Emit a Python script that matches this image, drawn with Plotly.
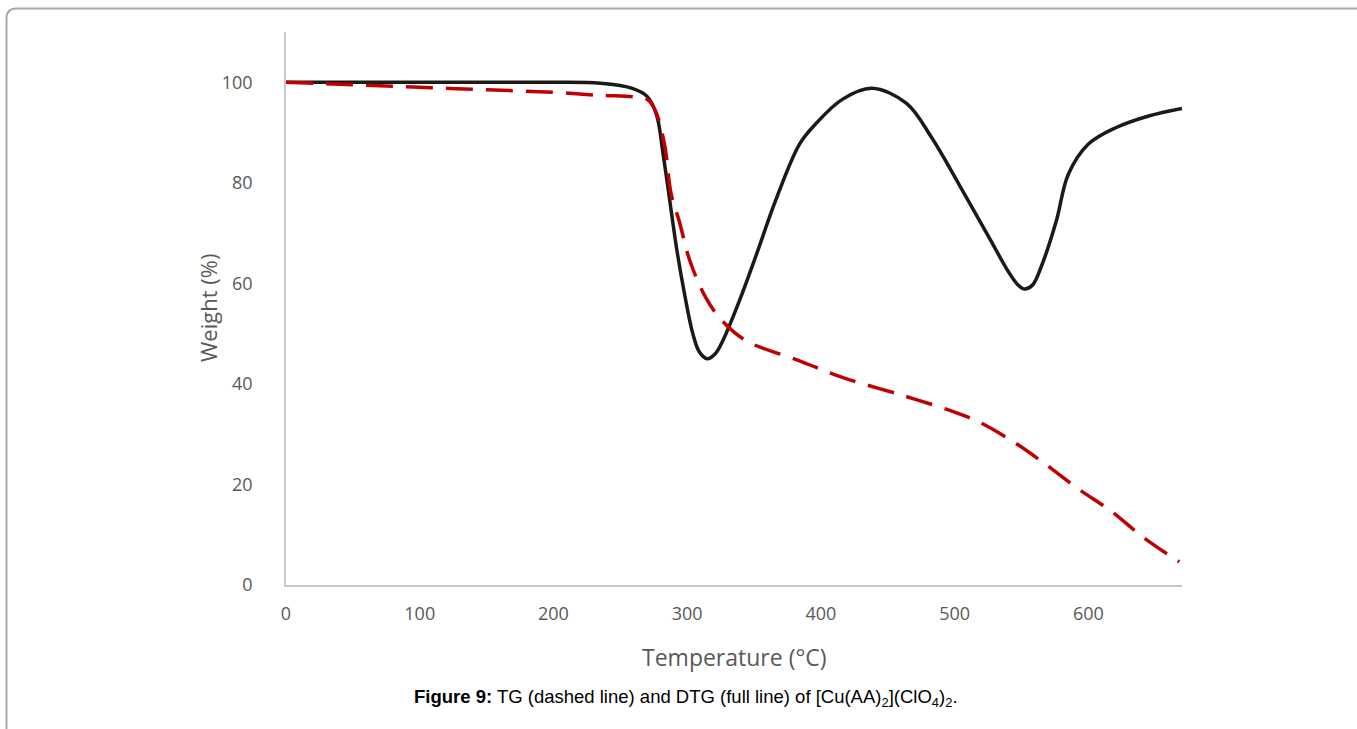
import plotly.graph_objects as go

# TG curve (dashed red)
tg_x = [0, 50, 100, 150, 200, 235, 260, 270, 276, 283, 288, 294, 302, 314, 326, 344, 384, 416, 460, 500, 520, 545, 565, 591, 617, 641, 668]
tg_y = [100, 99.5, 99, 98.5, 98, 97.4, 97.1, 96.6, 94.5, 87.7, 77.8, 72.4, 64.5, 57.1, 52.6, 48.6, 44.6, 41.3, 37.8, 34.4, 32.2, 28.3, 24.6, 19.4, 14.7, 9.5, 4.6]

# DTG curve (solid black)
dtg_x = [0, 100, 200, 235, 259, 270, 277, 282, 287, 292, 298, 304, 309, 315, 321, 327, 339, 352, 366, 384, 396, 416, 438, 464, 483, 503, 526, 540, 547, 552, 558, 565, 576, 585, 600, 620, 645, 670]
dtg_y = [100, 100, 100, 99.8, 98.8, 97.2, 93.6, 85.7, 76.4, 67.1, 57.9, 50.2, 46.4, 45.0, 46.0, 48.8, 56.5, 65.9, 76.4, 87.7, 91.7, 96.6, 98.8, 95.8, 88.9, 79.8, 69.0, 62.4, 59.8, 58.9, 59.6, 63.5, 72.4, 81.7, 87.7, 90.9, 93.3, 94.8]

x_ticks = [0, 100, 200, 300, 400, 500, 600]
y_ticks = [0, 20, 40, 60, 80, 100]

W, H = 1357, 729
L, R, T, B = 286, W - 1182, 32, H - 585
pw, ph = W - L - R, H - T - B

def px(x):
    return (x - L) / pw

def py(y):
    return (H - B - y) / ph

fig = go.Figure()
fig.add_trace(go.Scatter(x=dtg_x, y=dtg_y, mode="lines", line=dict(color="#1c1a14", width=3.5, shape="spline", smoothing=1.0), showlegend=False))
fig.add_trace(go.Scatter(x=tg_x, y=tg_y, mode="lines", line=dict(color="#c00000", width=3.5, dash="27px,13px", shape="spline", smoothing=1.0), showlegend=False))

axis_font = dict(family="Open Sans, sans-serif", size=18, color="#595959")
title_font = dict(family="Open Sans, sans-serif", size=23, color="#595959")
fig.update_xaxes(range=[0, 670], tickvals=x_ticks, showgrid=False, zeroline=False,
                 showline=True, linecolor="#c8c8c8", linewidth=1.5, ticks="",
                 tickfont=axis_font, ticklabelstandoff=12)
fig.update_yaxes(range=[0, 110], tickvals=y_ticks, showgrid=False, zeroline=False,
                 showline=True, linecolor="#c8c8c8", linewidth=1.5, ticks="",
                 tickfont=axis_font, ticklabelstandoff=28)

fig.add_annotation(xref="paper", yref="paper", x=px(734), y=py(657), xanchor="center", yanchor="middle",
                   showarrow=False, text="Temperature (°C)", font=title_font)
fig.add_annotation(xref="paper", yref="paper", x=px(208), y=py(308), xanchor="center", yanchor="middle",
                   showarrow=False, text="Weight (%)", textangle=-90,
                   font=dict(family="Open Sans, sans-serif", size=22, color="#595959"))

# rounded frame
x0, x1 = px(6.5), px(1362)
y0, y1 = py(8.5), py(740)
rx, ry = 10 / pw, 10 / ph
path = (f"M {x0},{y1} L {x0},{y0 - ry} Q {x0},{y0} {x0 + rx},{y0} L {x1},{y0}")
fig.add_shape(type="path", path=path, xref="paper", yref="paper",
              line=dict(color="#a8a8a8", width=2))

fig.add_annotation(xref="paper", yref="paper", x=px(686), y=py(698), xanchor="center", yanchor="middle",
                   showarrow=False,
                   text="<b>Figure 9:</b> TG (dashed line) and DTG (full line) of [Cu(AA)<sub>2</sub>](ClO<sub>4</sub>)<sub>2</sub>.",
                   font=dict(family="Liberation Sans, Arial, sans-serif", size=18.5, color="#000000"))

fig.update_layout(width=W, height=H, margin=dict(l=L, r=R, t=T, b=B),
                  plot_bgcolor="white", paper_bgcolor="white")
fig.write_html("out.html")
